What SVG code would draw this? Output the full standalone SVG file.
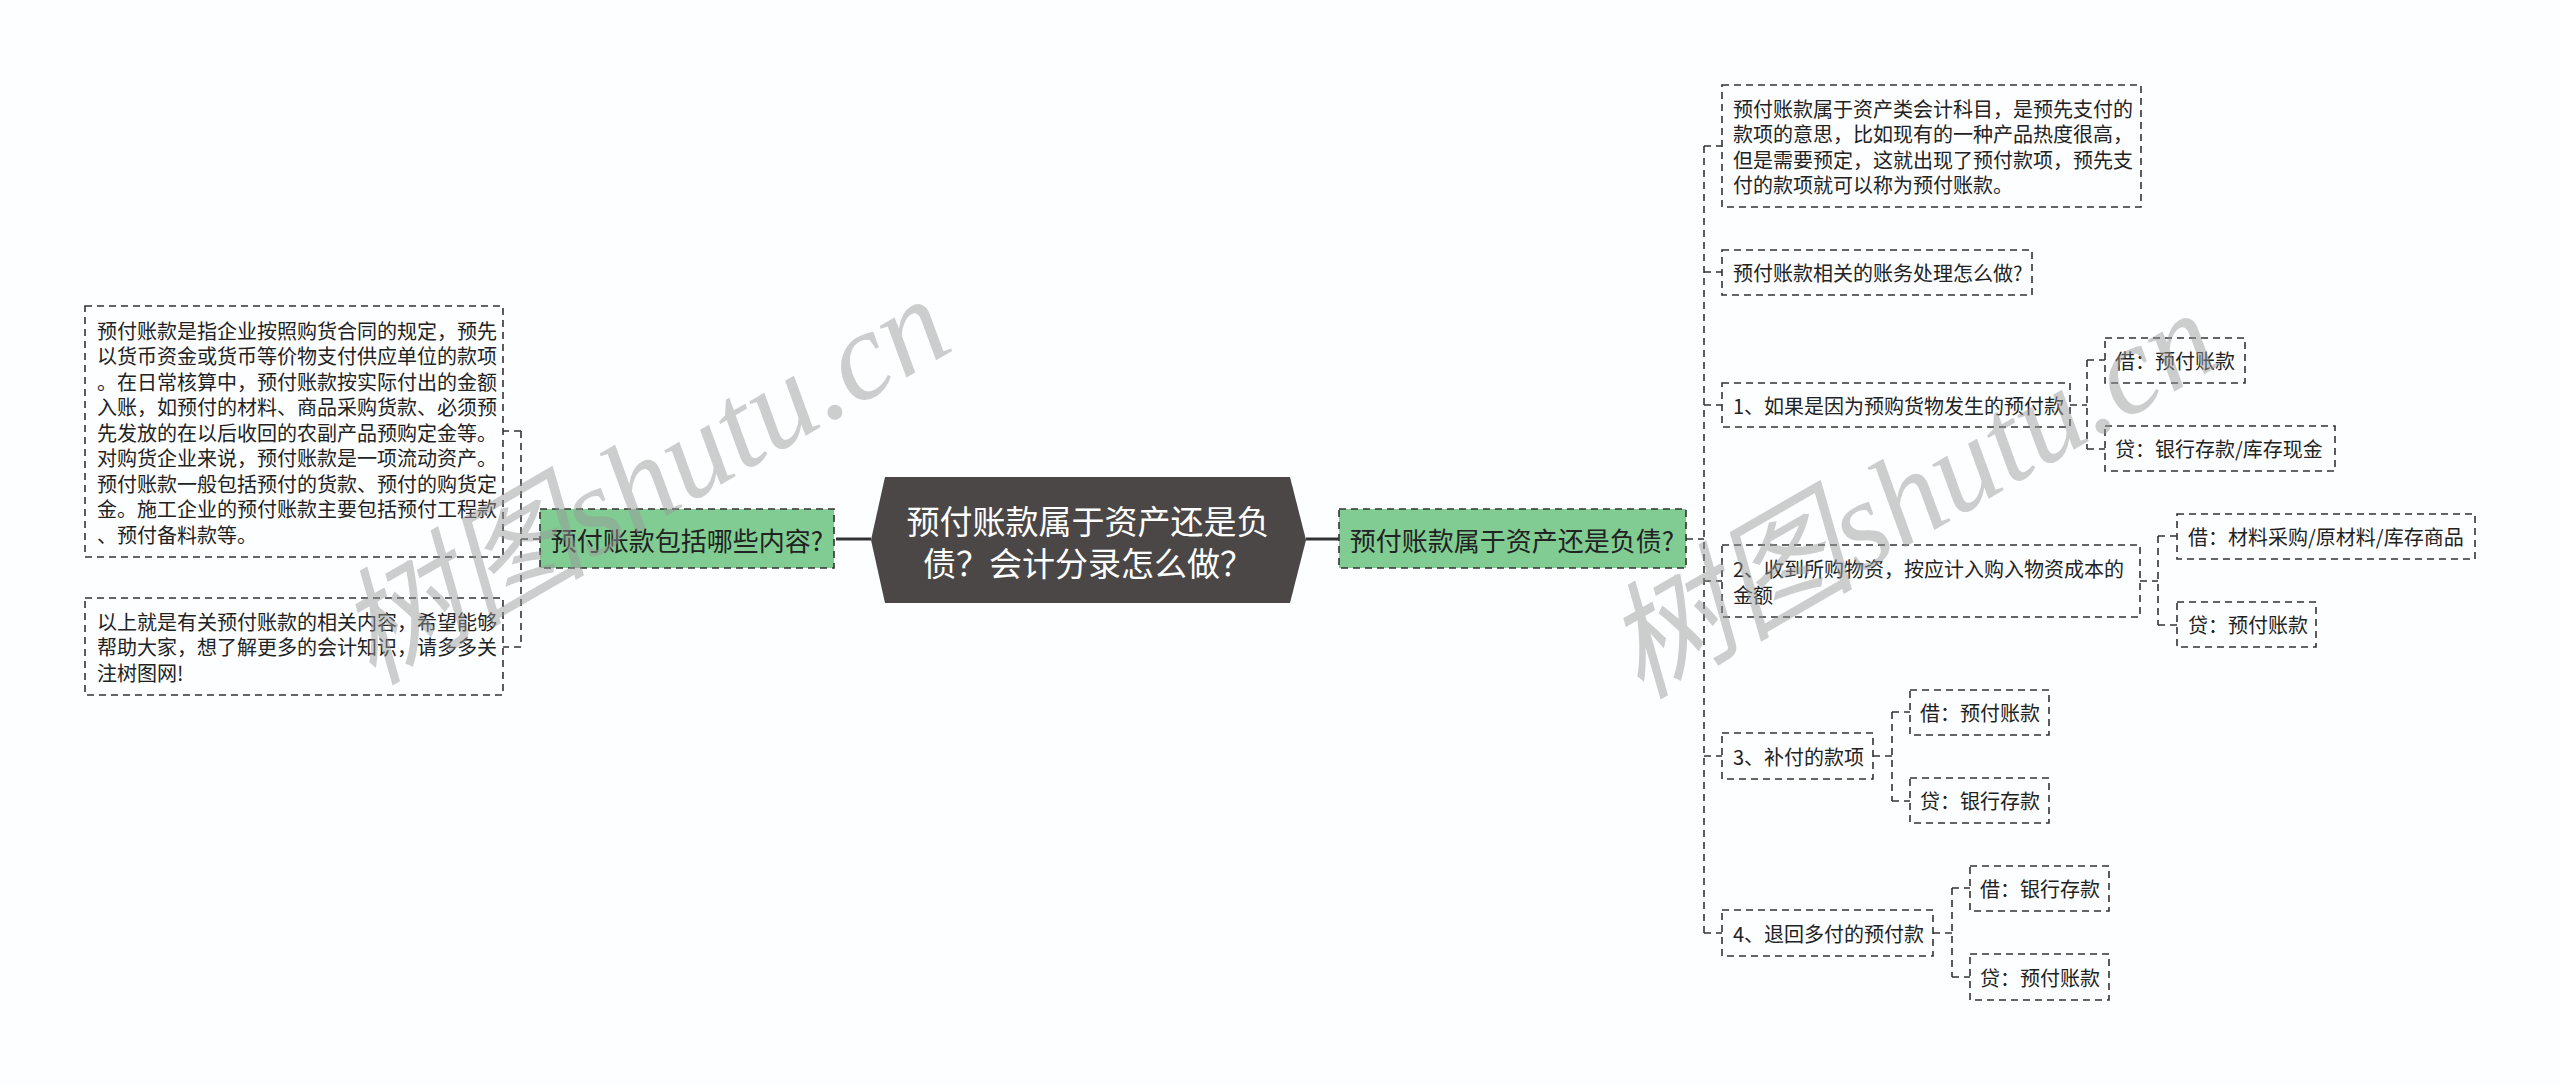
<svg xmlns="http://www.w3.org/2000/svg" width="2560" height="1085" viewBox="0 0 2560 1085">
<style>
.bg{fill:#fcfeff}
.box{fill:#fcfeff;stroke:#333;stroke-width:1.6;stroke-dasharray:7 5}
.green{fill:#80cc92;stroke:#333;stroke-width:1.6;stroke-dasharray:7 5}
.t{font-family:"Noto Sans CJK SC","Noto Sans",sans-serif;font-size:20px;fill:#222;dominant-baseline:central}
.gt{font-family:"Noto Sans CJK SC","Noto Sans",sans-serif;font-size:26px;fill:#222;dominant-baseline:central;text-anchor:middle}
.ct{font-family:"Noto Sans CJK SC","Noto Sans",sans-serif;font-size:33px;fill:#fff;dominant-baseline:central;text-anchor:middle}
.dc{fill:none;stroke:#333;stroke-width:1.6;stroke-dasharray:7 5}
.sc{fill:none;stroke:#333;stroke-width:3}
.wm{font-family:"Liberation Serif","Noto Sans CJK SC",serif;font-style:italic;font-size:126px;fill:#999;opacity:0.48}
</style>
<rect class="bg" x="0" y="0" width="2560" height="1085"/>
<g id="connectors">
<path class="sc" d="M836,539 H871 M1306,539 H1339"/>
<path class="dc" d="M540,539 H521 M521,431 V647 M521,431 H503 M521,647 H503"/>
<path class="dc" d="M1686,539 H1704 M1704,146 V933 M1704,146 H1722 M1704,272 H1722 M1704,405 H1722 M1704,581 H1722 M1704,756 H1722 M1704,933 H1722"/>
<path class="dc" d="M2070,405 H2087 M2087,360 V449 M2087,360 H2105 M2087,449 H2105"/>
<path class="dc" d="M2140,581 H2158 M2158,536 V625 M2158,536 H2177 M2158,625 H2177"/>
<path class="dc" d="M1873,756 H1892 M1892,712 V801 M1892,712 H1910 M1892,801 H1910"/>
<path class="dc" d="M1933,933 H1952 M1952,888 V977 M1952,888 H1970 M1952,977 H1970"/>
</g>
<g id="center">
<polygon points="885,477 1290,477 1306,540 1290,603 885,603 871,540" fill="#4b4747"/>
<text class="ct" x="1088" y="520">预付账款属于资产还是负</text>
<text class="ct" x="1088" y="562">债？会计分录怎么做？</text>
</g>
<g id="left-main">
<rect class="green" x="540" y="509" width="294" height="59"/>
<text class="gt" x="687" y="539">预付账款包括哪些内容?</text>
</g>
<g id="left-1">
<rect class="box" x="85" y="306" width="418" height="251"/>
<text class="t" x="97" y="330">预付账款是指企业按照购货合同的规定，预先</text>
<text class="t" x="97" y="355.5">以货币资金或货币等价物支付供应单位的款项</text>
<text class="t" x="97" y="381">。在日常核算中，预付账款按实际付出的金额</text>
<text class="t" x="97" y="406.5">入账，如预付的材料、商品采购货款、必须预</text>
<text class="t" x="97" y="432">先发放的在以后收回的农副产品预购定金等。</text>
<text class="t" x="97" y="457.5">对购货企业来说，预付账款是一项流动资产。</text>
<text class="t" x="97" y="483">预付账款一般包括预付的货款、预付的购货定</text>
<text class="t" x="97" y="508.5">金。施工企业的预付账款主要包括预付工程款</text>
<text class="t" x="97" y="534">、预付备料款等。</text>
</g>
<g id="left-2">
<rect class="box" x="85" y="598" width="418" height="97"/>
<text class="t" x="97" y="621">以上就是有关预付账款的相关内容，希望能够</text>
<text class="t" x="97" y="646.5">帮助大家，想了解更多的会计知识，请多多关</text>
<text class="t" x="97" y="672">注树图网!</text>
</g>
<g id="right-main">
<rect class="green" x="1339" y="509" width="347" height="59"/>
<text class="gt" x="1512" y="539">预付账款属于资产还是负债?</text>
</g>
<g id="r-a">
<rect class="box" x="1722" y="85" width="419" height="122"/>
<text class="t" x="1733" y="108">预付账款属于资产类会计科目，是预先支付的</text>
<text class="t" x="1733" y="133.5">款项的意思，比如现有的一种产品热度很高，</text>
<text class="t" x="1733" y="159">但是需要预定，这就出现了预付款项，预先支</text>
<text class="t" x="1733" y="184.5">付的款项就可以称为预付账款。</text>
</g>
<g id="r-b">
<rect class="box" x="1722" y="250" width="310" height="45"/>
<text class="t" x="1733" y="272.5">预付账款相关的账务处理怎么做?</text>
</g>
<g id="r-c">
<rect class="box" x="1722" y="383" width="348" height="44"/>
<text class="t" x="1733" y="405">1、如果是因为预购货物发生的预付款</text>
</g>
<g id="r-c1">
<rect class="box" x="2105" y="338" width="140" height="45"/>
<text class="t" x="2115" y="360.5">借：预付账款</text>
</g>
<g id="r-c2">
<rect class="box" x="2105" y="426" width="230" height="45"/>
<text class="t" x="2115" y="448.5">贷：银行存款/库存现金</text>
</g>
<g id="r-d">
<rect class="box" x="1722" y="545" width="418" height="72"/>
<text class="t" x="1733" y="568.5">2、收到所购物资，按应计入购入物资成本的</text>
<text class="t" x="1733" y="594">金额</text>
</g>
<g id="r-d1">
<rect class="box" x="2177" y="514" width="298" height="45"/>
<text class="t" x="2188" y="536.5">借：材料采购/原材料/库存商品</text>
</g>
<g id="r-d2">
<rect class="box" x="2177" y="602" width="139" height="45"/>
<text class="t" x="2188" y="624.5">贷：预付账款</text>
</g>
<g id="r-e">
<rect class="box" x="1722" y="733" width="151" height="46"/>
<text class="t" x="1733" y="756">3、补付的款项</text>
</g>
<g id="r-e1">
<rect class="box" x="1910" y="690" width="139" height="45"/>
<text class="t" x="1920" y="712.5">借：预付账款</text>
</g>
<g id="r-e2">
<rect class="box" x="1910" y="778" width="139" height="45"/>
<text class="t" x="1920" y="800.5">贷：银行存款</text>
</g>
<g id="r-f">
<rect class="box" x="1722" y="910" width="211" height="46"/>
<text class="t" x="1733" y="933">4、退回多付的预付款</text>
</g>
<g id="r-f1">
<rect class="box" x="1970" y="866" width="139" height="45"/>
<text class="t" x="1980" y="888.5">借：银行存款</text>
</g>
<g id="r-f2">
<rect class="box" x="1970" y="954" width="139" height="46"/>
<text class="t" x="1980" y="977">贷：预付账款</text>
</g>
<g id="watermark">
<text class="wm" transform="translate(372,686) rotate(-30)">树图shutu.cn</text>
<text class="wm" transform="translate(1640,700) rotate(-30)">树图shutu.cn</text>
</g>
</svg>
